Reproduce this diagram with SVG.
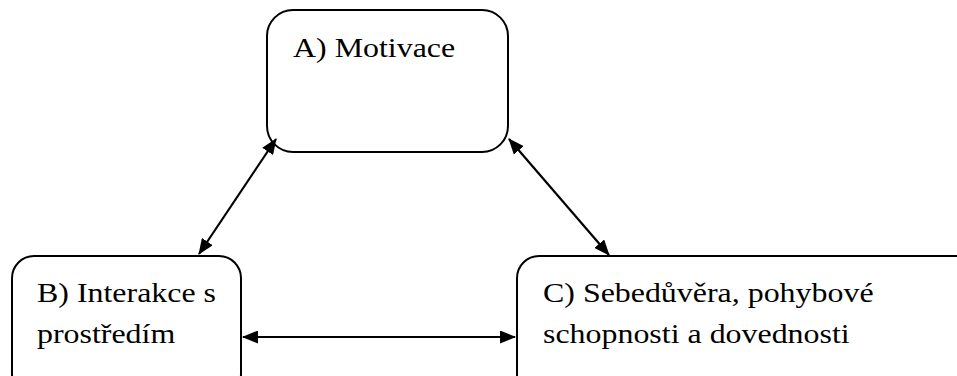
<svg xmlns="http://www.w3.org/2000/svg" width="957" height="376" viewBox="0 0 957 376">
<style>
.box{fill:#fff;stroke:#000;stroke-width:2}
.t{font-family:"Liberation Serif","Times New Roman",serif;font-size:28px;fill:#000}
.c{stroke:#000;stroke-width:2.2;fill:none}
</style>
<defs>
<marker id="ah" viewBox="0 0 16 13" refX="15" refY="6.5" markerWidth="16" markerHeight="13" markerUnits="userSpaceOnUse" orient="auto-start-reverse">
<path d="M0,0 L16,6.5 L0,13 Z" fill="#000"/>
</marker>
</defs>
<rect width="957" height="376" fill="#fff"/>
<g id="nodeA">
<rect class="box" x="267" y="10" width="241" height="142" rx="26"/>
<g transform="translate(293,0) scale(1.14,1)">
<text class="t" x="0" y="57">A) Motivace</text>
</g>
</g>
<g id="nodeB">
<rect class="box" x="12" y="256" width="229" height="140" rx="22"/>
<g transform="translate(37,0) scale(1.14,1)">
<text class="t" x="0" y="302">B) Interakce s</text>
<text class="t" x="0" y="343">prostředím</text>
</g>
</g>
<g id="nodeC">
<rect class="box" x="517" y="256" width="460" height="140" rx="22"/>
<g transform="translate(543,0) scale(1.14,1)">
<text class="t" x="0" y="302">C) Sebedůvěra, pohybové</text>
<text class="t" x="0" y="343">schopnosti a dovednosti</text>
</g>
</g>
<g id="connectors">
<line class="c" x1="276" y1="139" x2="199" y2="254" marker-start="url(#ah)" marker-end="url(#ah)"/>
<line class="c" x1="509" y1="139" x2="609" y2="255" marker-start="url(#ah)" marker-end="url(#ah)"/>
<line class="c" x1="243" y1="337" x2="515" y2="337" marker-start="url(#ah)" marker-end="url(#ah)"/>
</g>
</svg>
